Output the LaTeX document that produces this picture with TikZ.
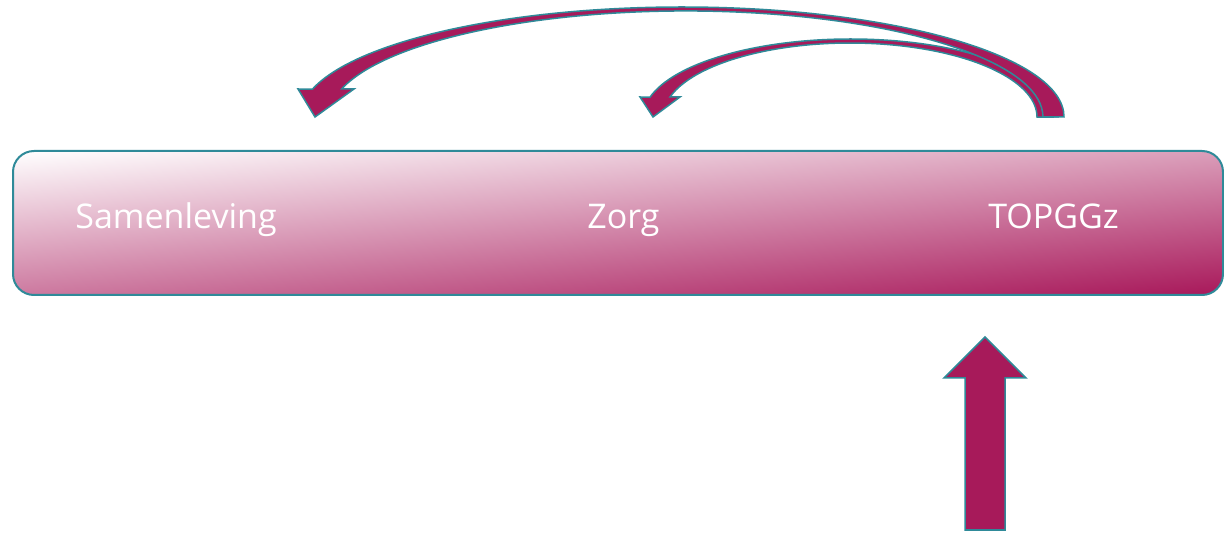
\documentclass[tikz,border=0pt]{standalone}
\usepackage{fontspec}
\setmainfont{Open Sans}
\definecolor{rim}{HTML}{2F8A99}
\definecolor{berry}{HTML}{A71A5A}
% white in the upper left corner, deep berry in the lower right,
% changing mostly from top to bottom (the inner 50bp square is fitted
% to the bar)
\pgfdeclarefunctionalshading{barshade}{\pgfpoint{-50bp}{-50bp}}{\pgfpoint{50bp}{50bp}}{}{
  exch 0.0084 mul exch 0.0116 mul sub 0.5 add
  dup 0.341 mul 1 exch sub exch
  dup 0.906 mul 1 exch sub exch
  0.647 mul 1 exch sub
}
\tikzset{
  bar/.style={draw=rim, line width=2pt, rounded corners=21pt,
    shading=barshade,
    minimum width=1210pt, minimum height=144pt, inner sep=0pt},
  label/.style={text=white, anchor=base, inner sep=0pt,
    font=\fontsize{34}{40}\selectfont},
  flow/.style={fill=berry, draw=rim, line width=1.5pt, line join=miter}
}
\begin{document}
\begin{tikzpicture}[x=1pt,y=1pt]
\useasboundingbox (0,0) rectangle (1224,533);

% the bar with its three labels
\node[bar] (band) at (618,310) {};
\node[label] (samen) at (176,304) {Samenleving};
\node[label] (zorg)  at (623.5,304) {Zorg};
\node[label] (top)   at (1053.5,304) {TOPGGz};

% short curved arrow towards Zorg
\draw[flow] (1058,416)
  arc[start angle=0, end angle=165.2, x radius=207.4, y radius=78]
  -- (640,436) -- (653,416) -- (680,436) -- (670,436)
  arc[start angle=164.3, end angle=0, x radius=187, y radius=74]
  -- cycle;

% long curved arrow towards Samenleving
\draw[flow] (1064,416)
  arc[start angle=0, end angle=165.3, x radius=382, y radius=110]
  -- (298,444) -- (315,416) -- (354,444) -- (341.6,444)
  arc[start angle=164.7, end angle=0, x radius=357, y radius=106]
  -- cycle;

% straight arrow pointing up at TOPGGz
\draw[flow] (965,3) -- (965,155) -- (944,155) -- (985,196)
  -- (1026,155) -- (1005,155) -- (1005,3) -- cycle;
\end{tikzpicture}
\end{document}
